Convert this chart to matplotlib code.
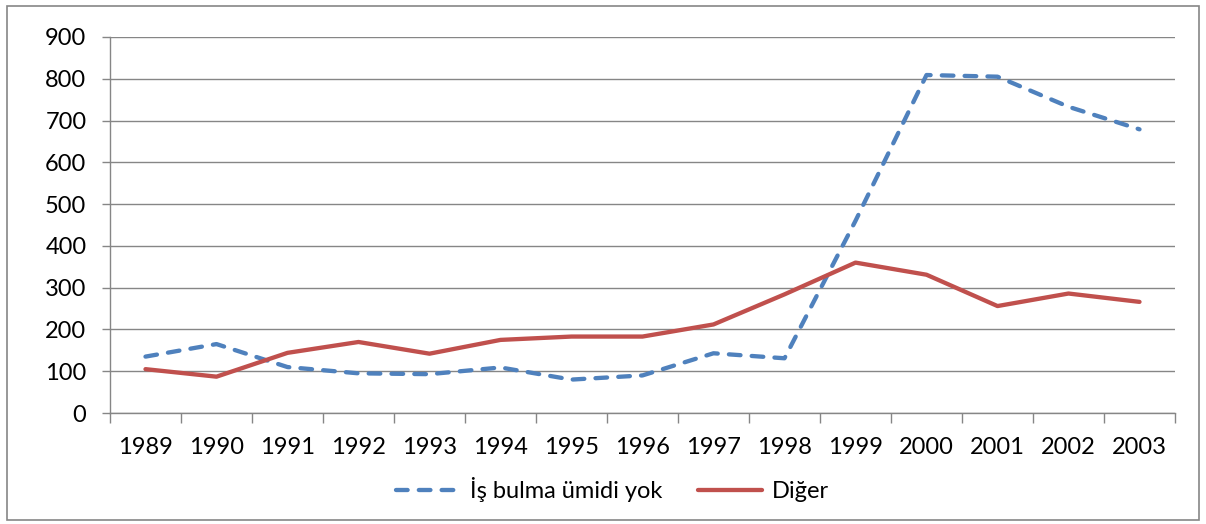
import matplotlib.pyplot as plt
from matplotlib.patches import Rectangle

plt.rcParams['font.family'] = ['Lato', 'DejaVu Sans']

# data
years = ['1989', '1990', '1991', '1992', '1993', '1994', '1995', '1996',
         '1997', '1998', '1999', '2000', '2001', '2002', '2003']
is_bulma = [135, 165, 110, 95, 93, 109, 80, 90, 143, 131, 460, 809, 805, 733, 679]
diger = [105, 87, 144, 170, 142, 175, 183, 183, 212, 284, 360, 331, 256, 286, 266]

grey = '#868686'
blue = '#4F81BD'
red = '#C0504D'

fig = plt.figure(figsize=(12.06, 5.24), dpi=100)
ax = fig.add_axes([0.0912, 0.2118, 0.9743 - 0.0912, 0.9294 - 0.2118])

x = list(range(len(years)))
ax.plot(x, is_bulma, color=blue, lw=3.1, dashes=(2.7, 2.6),
        dash_capstyle='round', solid_capstyle='round', label='İş bulma ümidi yok')
ax.plot(x, diger, color=red, lw=3.1, solid_capstyle='round', label='Diğer')

ax.set_xlim(-0.5, len(years) - 0.5)
ax.set_ylim(0, 900)
ax.set_yticks(range(0, 1000, 100))
ax.grid(axis='y', color=grey, lw=1.0)
ax.set_axisbelow(True)

# category boundaries get the tick marks, labels sit in between
ax.set_xticks([i - 0.5 for i in range(len(years) + 1)])
ax.set_xticklabels([])
ax.set_xticks(x, minor=True)
ax.set_xticklabels(years, minor=True)
ax.tick_params(axis='x', which='major', length=7, width=1, color=grey)
ax.tick_params(axis='x', which='minor', length=0, pad=17, labelsize=17)
ax.tick_params(axis='y', length=6, width=1, color=grey, pad=11, labelsize=17)

for s in ['top', 'right']:
    ax.spines[s].set_visible(False)
for s in ['left', 'bottom']:
    ax.spines[s].set_color(grey)
    ax.spines[s].set_linewidth(1)

fig.legend(loc='center', bbox_to_anchor=(0.508, 0.065), ncol=2, frameon=False,
           fontsize=17, handlelength=2.7, handletextpad=0.45, columnspacing=1.5)

fig.patches.append(Rectangle((0.006, 0.008), 0.988, 0.98, transform=fig.transFigure,
                             fill=False, edgecolor=grey, lw=1.2))

fig.savefig('out.png', dpi=100)
